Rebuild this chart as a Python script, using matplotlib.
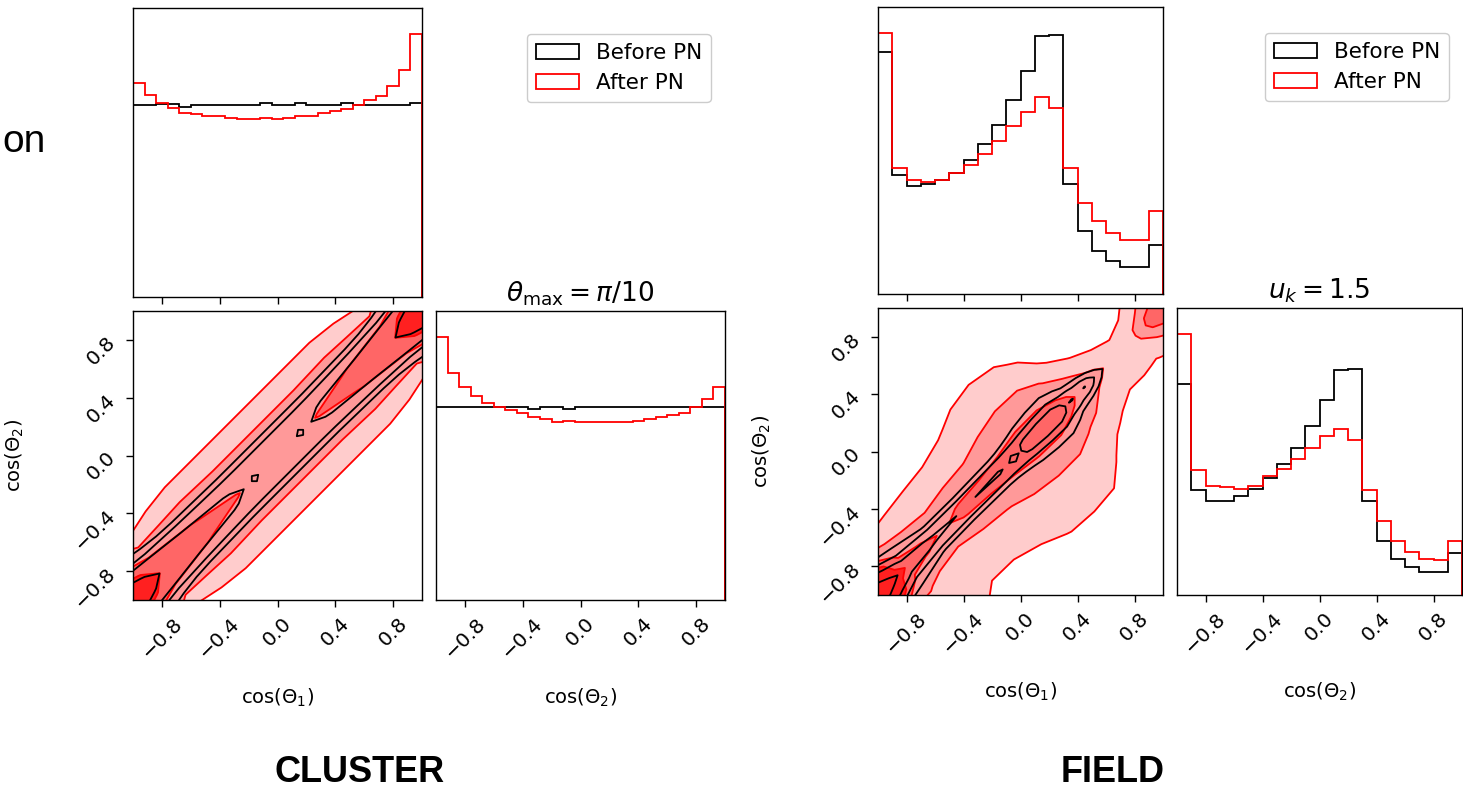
import numpy as np
import matplotlib
matplotlib.use("Agg")
import matplotlib.pyplot as plt
from matplotlib.patches import Patch

# ---------------- 1D histogram data (relative counts) ----------------
cluster_cos1_before = [0.666, 0.666, 0.668, 0.668, 0.658, 0.664, 0.664, 0.664, 0.664, 0.664,
                       0.664, 0.670, 0.664, 0.664, 0.670, 0.664, 0.664, 0.664, 0.670, 0.664,
                       0.664, 0.664, 0.664, 0.664, 0.670]
cluster_cos1_after = [0.742, 0.699, 0.670, 0.655, 0.637, 0.632, 0.625, 0.625, 0.621, 0.615,
                      0.615, 0.621, 0.615, 0.621, 0.625, 0.625, 0.635, 0.643, 0.652, 0.664,
                      0.681, 0.696, 0.730, 0.785, 0.909]
cluster_cos2_before = [0.666, 0.666, 0.666, 0.666, 0.666, 0.666, 0.666, 0.666, 0.660, 0.666,
                       0.666, 0.660, 0.666, 0.666, 0.666, 0.666, 0.666, 0.666, 0.666, 0.666,
                       0.666, 0.666, 0.666, 0.666, 0.666]
cluster_cos2_after = [0.908, 0.786, 0.737, 0.705, 0.680, 0.668, 0.657, 0.645, 0.631, 0.627,
                      0.614, 0.620, 0.614, 0.614, 0.614, 0.614, 0.614, 0.620, 0.627, 0.634,
                      0.641, 0.647, 0.668, 0.695, 0.737]

field_cos1_before = [0.843, 0.413, 0.375, 0.382, 0.396, 0.422, 0.466, 0.521, 0.589, 0.673,
                     0.776, 0.896, 0.902, 0.384, 0.218, 0.150, 0.115, 0.094, 0.094, 0.170]
field_cos1_after = [0.907, 0.439, 0.396, 0.390, 0.396, 0.419, 0.448, 0.486, 0.533, 0.585,
                    0.632, 0.686, 0.645, 0.439, 0.317, 0.253, 0.211, 0.189, 0.189, 0.290]
field_cos2_before = [0.733, 0.363, 0.327, 0.327, 0.345, 0.368, 0.406, 0.454, 0.512, 0.587,
                     0.676, 0.780, 0.784, 0.327, 0.187, 0.126, 0.097, 0.080, 0.080, 0.146]
field_cos2_after = [0.906, 0.433, 0.380, 0.374, 0.368, 0.378, 0.412, 0.439, 0.471, 0.509,
                    0.553, 0.577, 0.538, 0.366, 0.257, 0.187, 0.149, 0.126, 0.120, 0.187]

cluster_edges = np.linspace(-1, 1, len(cluster_cos1_after) + 1)
field_edges = np.linspace(-1, 1, len(field_cos1_after) + 1)

# ---------------- 2D density grids ----------------
# grids are given on rotated coordinates: s = (x+y)/2 along the diagonal, d = (y-x)/2 across it
# values are density levels; contour thresholds at 1, 2, 3, 4
cl_after_s = [-1.0, -0.9, -0.8, -0.65, -0.5, -0.28, -0.1, 0.1, 0.28, 0.5, 0.65, 0.8, 0.9, 1.0]
cl_after_d = [-0.5, -0.34, -0.22, -0.12, -0.06, 0.0, 0.06, 0.12, 0.22, 0.34, 0.5]
cl_after_z = [
    [0.5, 1.4, 2.4, 3.6, 4.6, 5.0, 4.6, 3.6, 2.4, 1.4, 0.5],
    [0.3, 1.0, 2.0, 3.0, 4.1, 4.6, 4.1, 3.0, 2.0, 1.0, 0.3],
    [0.0, 0.0, 1.1, 2.7, 3.35, 3.9, 3.35, 2.7, 1.1, 0.0, 0.0],
    [0.0, 0.1, 1.5, 2.5, 3.15, 3.5, 3.15, 2.5, 1.5, 0.1, 0.0],
    [0.0, 0.3, 1.7, 2.4, 2.95, 3.3, 2.95, 2.4, 1.7, 0.3, 0.0],
    [0.0, 0.3, 1.7, 2.3, 2.7, 3.05, 2.7, 2.3, 1.7, 0.3, 0.0],
    [0.0, 0.3, 1.7, 2.3, 2.5, 2.6, 2.5, 2.3, 1.7, 0.3, 0.0],
    [0.0, 0.3, 1.7, 2.3, 2.5, 2.6, 2.5, 2.3, 1.7, 0.3, 0.0],
    [0.0, 0.3, 1.7, 2.3, 2.7, 3.05, 2.7, 2.3, 1.7, 0.3, 0.0],
    [0.0, 0.3, 1.7, 2.4, 2.95, 3.3, 2.95, 2.4, 1.7, 0.3, 0.0],
    [0.0, 0.1, 1.5, 2.5, 3.15, 3.5, 3.15, 2.5, 1.5, 0.1, 0.0],
    [0.0, 0.0, 1.1, 2.7, 3.35, 3.9, 3.35, 2.7, 1.1, 0.0, 0.0],
    [0.3, 1.0, 2.0, 3.0, 4.1, 4.6, 4.1, 3.0, 2.0, 1.0, 0.3],
    [0.5, 1.4, 2.4, 3.6, 4.6, 5.0, 4.6, 3.6, 2.4, 1.4, 0.5],
]

cl_before_s = [-1.0, -0.9, -0.8, -0.6, -0.45, -0.3, -0.2, -0.16, 0.0, 0.16, 0.2, 0.3, 0.45, 0.6, 0.8, 0.9, 1.0]
cl_before_d = [-0.4, -0.2, -0.14, -0.09, -0.04, 0.0, 0.04, 0.09, 0.14, 0.2, 0.4]
cl_before_z = [
    [0.0, 0.6, 2.0, 3.8, 4.6, 5.0, 4.6, 3.8, 2.0, 0.6, 0.0],
    [0.0, 0.4, 1.6, 3.4, 4.1, 4.5, 4.1, 3.4, 1.6, 0.4, 0.0],
    [0.0, 0.2, 1.2, 3.0, 3.6, 3.9, 3.6, 3.0, 1.2, 0.2, 0.0],
    [0.0, 0.1, 0.8, 2.7, 3.35, 3.6, 3.35, 2.7, 0.8, 0.1, 0.0],
    [0.0, 0.1, 0.7, 2.5, 3.15, 3.4, 3.15, 2.5, 0.7, 0.1, 0.0],
    [0.0, 0.1, 0.6, 2.35, 2.95, 3.2, 2.95, 2.35, 0.6, 0.1, 0.0],
    [0.0, 0.1, 0.6, 2.3, 2.75, 2.9, 2.75, 2.3, 0.6, 0.1, 0.0],
    [0.0, 0.1, 0.6, 2.3, 2.9, 3.08, 2.9, 2.3, 0.6, 0.1, 0.0],
    [0.0, 0.1, 0.6, 2.3, 2.55, 2.6, 2.55, 2.3, 0.6, 0.1, 0.0],
    [0.0, 0.1, 0.6, 2.3, 2.9, 3.08, 2.9, 2.3, 0.6, 0.1, 0.0],
    [0.0, 0.1, 0.6, 2.3, 2.75, 2.9, 2.75, 2.3, 0.6, 0.1, 0.0],
    [0.0, 0.1, 0.6, 2.35, 2.95, 3.2, 2.95, 2.35, 0.6, 0.1, 0.0],
    [0.0, 0.1, 0.7, 2.5, 3.15, 3.4, 3.15, 2.5, 0.7, 0.1, 0.0],
    [0.0, 0.1, 0.8, 2.7, 3.35, 3.6, 3.35, 2.7, 0.8, 0.1, 0.0],
    [0.0, 0.2, 1.2, 3.0, 3.6, 3.9, 3.6, 3.0, 1.2, 0.2, 0.0],
    [0.0, 0.4, 1.6, 3.4, 4.1, 4.5, 4.1, 3.4, 1.6, 0.4, 0.0],
    [0.0, 0.6, 2.0, 3.8, 4.6, 5.0, 4.6, 3.8, 2.0, 0.6, 0.0],
]

fd_after_s = [-1.0, -0.9, -0.8, -0.7, -0.55, -0.4, -0.25, -0.1, 0.05, 0.2, 0.3, 0.4, 0.5, 0.6, 0.7, 0.8, 0.9, 1.0]
fd_after_d = [-0.6, -0.45, -0.35, -0.25, -0.16, -0.08, -0.03, 0.0, 0.03, 0.08, 0.16, 0.25, 0.35, 0.45, 0.6]
fd_after_z = [
    [2.0, 2.4, 2.8, 3.2, 3.8, 4.6, 5.0, 5.2, 5.0, 4.6, 3.8, 3.2, 2.8, 2.4, 2.0],
    [0.2, 0.5, 0.8, 1.3, 2.2, 4.3, 4.5, 4.8, 4.5, 4.3, 2.2, 1.3, 0.8, 0.5, 0.2],
    [0.6, 1.15, 1.45, 1.7, 2.05, 2.7, 3.4, 3.9, 3.4, 2.7, 1.95, 0.95, 0.4, 0.1, 0.0],
    [0.13, 1.05, 1.32, 1.59, 1.84, 2.33, 3.05, 3.3, 3.05, 2.58, 1.79, 1.04, 0.37, 0.0, 0.0],
    [0.0, 0.5, 1.0, 1.35, 1.74, 2.18, 2.8, 2.9, 2.8, 2.3, 1.74, 1.16, 0.5, 0.0, 0.0],
    [0.0, 0.37, 1.02, 1.45, 1.83, 2.5, 3.05, 3.2, 3.05, 2.6, 1.87, 1.27, 0.6, 0.0, 0.0],
    [0.0, 0.73, 1.23, 1.62, 1.96, 2.7, 3.12, 3.3, 3.12, 2.73, 1.98, 1.47, 0.87, 0.2, 0.0],
    [0.1, 1.05, 1.4, 1.75, 2.17, 2.87, 3.22, 3.4, 3.22, 2.88, 2.24, 1.71, 1.24, 0.67, 0.0],
    [0.2, 1.11, 1.46, 1.82, 2.33, 3.02, 3.4, 3.6, 3.4, 3.05, 2.45, 1.87, 1.36, 0.8, 0.0],
    [0.1, 1.04, 1.42, 1.81, 2.35, 3.05, 3.5, 3.7, 3.5, 3.05, 2.44, 1.82, 1.24, 0.6, 0.0],
    [0.0, 0.53, 1.14, 1.62, 2.09, 2.82, 3.2, 3.4, 3.2, 2.82, 2.09, 1.47, 0.8, 0.13, 0.0],
    [0.0, 0.0, 0.53, 1.2, 1.8, 2.35, 2.8, 2.9, 2.8, 2.25, 1.5, 0.73, 0.07, 0.0, 0.0],
    [0.0, 0.0, 0.13, 0.8, 1.35, 1.82, 2.16, 2.4, 2.16, 1.7, 0.93, 0.33, 0.0, 0.0, 0.0],
    [0.0, 0.0, 0.0, 0.47, 1.05, 1.5, 1.78, 1.9, 1.75, 1.2, 0.6, 0.0, 0.0, 0.0, 0.0],
    [0.0, 0.0, 0.0, 0.33, 1.07, 1.35, 1.5, 1.6, 1.45, 0.97, 0.5, 0.0, 0.0, 0.0, 0.0],
    [0.0, 0.0, 0.0, 0.2, 0.95, 1.5, 1.8, 1.9, 1.8, 1.3, 0.6, 0.0, 0.0, 0.0, 0.0],
    [0.0, 0.0, 0.0, 0.5, 1.3, 2.15, 3.05, 3.3, 3.05, 2.15, 1.3, 0.5, 0.0, 0.0, 0.0],
    [0.0, 0.0, 0.3, 1.0, 1.8, 3.0, 3.6, 3.8, 3.6, 3.0, 1.8, 1.0, 0.3, 0.0, 0.0],
]

fd_before_s = [-1.0, -0.9, -0.8, -0.6, -0.4, -0.15, -0.1, -0.05, 0.0, 0.05, 0.15, 0.25,
               0.32, 0.36, 0.4, 0.45, 0.5, 0.55, 0.6, 0.8, 1.0]
fd_before_d = [-0.3, -0.15, -0.08, -0.05, -0.025, 0.0, 0.025, 0.05, 0.08, 0.15, 0.3]
fd_before_z = [
    [1.5, 2.5, 3.5, 4.2, 4.6, 5.0, 4.6, 4.2, 3.5, 2.5, 1.5],
    [0.2, 0.6, 2.8, 3.4, 3.9, 4.3, 3.9, 3.4, 2.8, 0.6, 0.2],
    [0.0, 0.3, 1.8, 2.8, 3.2, 3.5, 3.2, 2.8, 1.8, 0.3, 0.0],
    [0.0, 0.1, 0.9, 2.2, 2.9, 3.15, 2.9, 2.2, 0.9, 0.1, 0.0],
    [0.0, 0.05, 0.8, 2.1, 2.7, 2.95, 2.7, 2.1, 0.8, 0.05, 0.0],
    [0.0, 0.1, 1.0, 2.2, 2.8, 3.1, 2.8, 2.2, 1.0, 0.1, 0.0],
    [0.0, 0.1, 1.05, 2.2, 2.8, 2.9, 2.8, 2.2, 1.05, 0.1, 0.0],
    [0.0, 0.15, 1.15, 2.3, 2.95, 3.15, 2.95, 2.3, 1.15, 0.15, 0.0],
    [0.0, 0.2, 1.3, 2.4, 2.85, 2.95, 2.85, 2.4, 1.3, 0.2, 0.0],
    [0.0, 0.3, 1.5, 2.6, 3.2, 3.4, 3.2, 2.6, 1.5, 0.3, 0.0],
    [0.0, 0.4, 1.8, 2.8, 3.4, 3.6, 3.4, 2.8, 1.8, 0.4, 0.0],
    [0.0, 0.4, 1.9, 2.8, 3.4, 3.6, 3.4, 2.8, 1.9, 0.4, 0.0],
    [0.0, 0.2, 1.3, 2.3, 2.8, 2.95, 2.8, 2.3, 1.3, 0.2, 0.0],
    [0.0, 0.1, 1.0, 2.1, 2.7, 3.05, 2.7, 2.1, 1.0, 0.1, 0.0],
    [0.0, 0.05, 0.7, 1.8, 2.5, 2.8, 2.5, 1.8, 0.7, 0.05, 0.0],
    [0.0, 0.0, 0.4, 1.4, 2.5, 3.05, 2.5, 1.4, 0.4, 0.0, 0.0],
    [0.0, 0.0, 0.2, 0.9, 1.8, 2.3, 1.8, 0.9, 0.2, 0.0, 0.0],
    [0.0, 0.0, 0.0, 0.3, 0.9, 1.4, 0.9, 0.3, 0.0, 0.0, 0.0],
    [0.0, 0.0, 0.0, 0.0, 0.3, 0.6, 0.3, 0.0, 0.0, 0.0, 0.0],
    [0.0, 0.0, 0.0, 0.0, 0.0, 0.0, 0.0, 0.0, 0.0, 0.0, 0.0],
    [0.0, 0.0, 0.0, 0.0, 0.0, 0.0, 0.0, 0.0, 0.0, 0.0, 0.0],
]

ticks = [-0.8, -0.4, 0.0, 0.4, 0.8]
legend_labels = ["Before PN", "After PN"]
contour_levels = [1, 2, 3, 4]
fill_colors = ["#ffcccc", "#ff9999", "#ff6666", "#ff2020"]

# ---------------- figure ----------------
W, H = 1463, 791
fig = plt.figure(figsize=(W / 100, H / 100), dpi=100)


def add_ax(x0, y0, w, h):
    return fig.add_axes([x0 / W, 1 - (y0 + h) / H, w / W, h / H])


TICK_FS = 14.5
LABEL_FS = 14


def style(ax, xlabels=True, yticks=False):
    ax.set_xlim(-1, 1)
    ax.set_xticks(ticks)
    ax.tick_params(length=5, width=1.0, pad=5)
    for sp in ax.spines.values():
        sp.set_linewidth(1.0)
    if not xlabels:
        ax.set_xticklabels([])
    else:
        for lab in ax.get_xticklabels():
            lab.set_rotation(45)
            lab.set_fontsize(TICK_FS)
    if yticks:
        ax.set_yticks(ticks)
        for lab in ax.get_yticklabels():
            lab.set_rotation(45)
            lab.set_fontsize(TICK_FS)
    else:
        ax.set_yticks([])


def hist(ax, before, after, edges):
    ax.stairs(before, edges, color="black", lw=1.3, baseline=0)
    ax.stairs(after, edges, color="red", lw=1.3, baseline=0)
    ax.set_ylim(0, 1.1 * max(max(before), max(after)))


def dens(ax, s_after, d_after, z_after, s_before, d_before, z_before):
    S, D = np.meshgrid(s_after, d_after, indexing="ij")
    Z = np.array(z_after)
    ax.contourf(S - D, S + D, Z, levels=contour_levels + [100], colors=fill_colors, antialiased=True)
    ax.contour(S - D, S + D, Z, levels=contour_levels, colors="red", linewidths=1.3)
    Sb, Db = np.meshgrid(s_before, d_before, indexing="ij")
    Zb = np.array(z_before)
    ax.contour(Sb - Db, Sb + Db, Zb, levels=contour_levels, colors="black", linewidths=1.3)
    ax.set_xlim(-1, 1)
    ax.set_ylim(-1, 1)


def panel(x_left, y_top, size, gap, top_b, top_a, right_b, right_a, edges,
          s_a, d_a, z_a, s_b, d_b, z_b, title, leg_xy):
    w, h = size
    ax_top = add_ax(x_left, y_top, w, h)
    hist(ax_top, top_b, top_a, edges)
    style(ax_top, xlabels=False)

    ax_c = add_ax(x_left, y_top + h + gap, w, h)
    dens(ax_c, s_a, d_a, z_a, s_b, d_b, z_b)
    style(ax_c, xlabels=True, yticks=True)
    ax_c.set_xlabel("cos($\\Theta_1$)", fontsize=LABEL_FS)
    ax_c.set_ylabel("cos($\\Theta_2$)", fontsize=LABEL_FS)
    ax_c.xaxis.set_label_coords(0.5, -0.30)
    ax_c.yaxis.set_label_coords(-0.37, 0.5)

    ax_r = add_ax(x_left + w + gap, y_top + h + gap, w, h)
    hist(ax_r, right_b, right_a, edges)
    style(ax_r, xlabels=True)
    ax_r.set_xlabel("cos($\\Theta_2$)", fontsize=LABEL_FS)
    ax_r.xaxis.set_label_coords(0.5, -0.30)
    ax_r.set_title(title, fontsize=19, pad=7)

    handles = [Patch(facecolor="none", edgecolor="black", lw=1.3),
               Patch(facecolor="none", edgecolor="red", lw=1.3)]
    fig.legend(handles, legend_labels, loc="upper left",
               bbox_to_anchor=(leg_xy[0] / W, 1 - leg_xy[1] / H),
               borderaxespad=0, fontsize=15.5, framealpha=1.0)


panel(133, 8, (289, 289), 14,
      cluster_cos1_before, cluster_cos1_after, cluster_cos2_before, cluster_cos2_after,
      cluster_edges, cl_after_s, cl_after_d, cl_after_z, cl_before_s, cl_before_d, cl_before_z,
      r"$\theta_{\rm max} = \pi/10$", (527, 34))

panel(878, 7, (285, 287), 14,
      field_cos1_before, field_cos1_after, field_cos2_before, field_cos2_after,
      field_edges, fd_after_s, fd_after_d, fd_after_z, fd_before_s, fd_before_d, fd_before_z,
      r"$u_k = 1.5$", (1265, 33))

fig.text(360 / W, 1 - 773 / H, "CLUSTER", ha="center", va="center", fontsize=26,
         fontweight="bold", family="Liberation Sans")
fig.text(1113 / W, 1 - 773 / H, "FIELD", ha="center", va="center", fontsize=26,
         fontweight="bold", family="Liberation Sans")
fig.text(2 / W, 1 - 152 / H, "on", ha="left", va="baseline", fontsize=28,
         family="Liberation Sans")

fig.savefig("out.png", dpi=100)
